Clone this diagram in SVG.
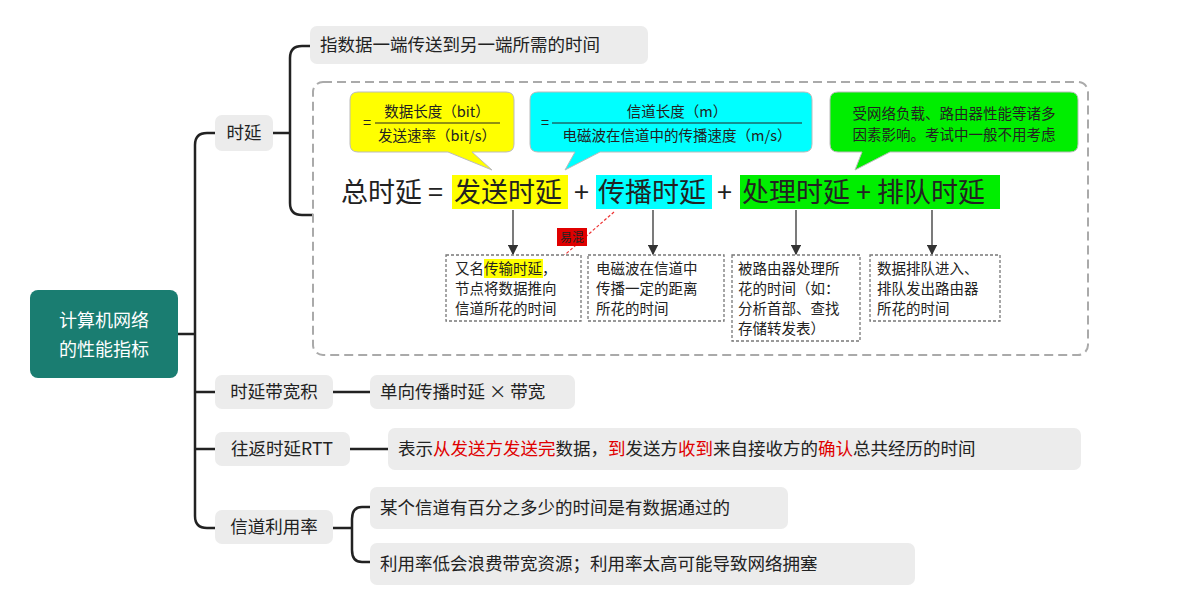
<svg xmlns="http://www.w3.org/2000/svg" width="1188" height="604" viewBox="0 0 1188 604">
<style>
text{font-family:"Noto Sans CJK SC","Liberation Sans",sans-serif;fill:#222}
.n{fill:#ececec}
.t{font-size:17.5px}
.s{font-size:14.5px;font-family:"Noto Sans CJK SC",serif}
.br{fill:none;stroke:#222;stroke-width:2.5}
.dl{fill:#fff;stroke:#777;stroke-width:1.3;stroke-dasharray:3,2}
.f{font-size:27px}
.ar{stroke:#333;stroke-width:1.3;marker-end:url(#a)}
.r{fill:#e00000}
</style>
<defs>
<marker id="a" markerWidth="8" markerHeight="8" refX="7" refY="4" orient="auto"><path d="M0,0L8,4L0,8z" fill="#333"/></marker>
<marker id="ar" markerWidth="8" markerHeight="8" refX="7" refY="4" orient="auto"><path d="M0,0L8,4L0,8z" fill="#e33"/></marker>
</defs>
<rect width="1188" height="604" fill="#fff"/>
<g id="connectors">
<path class="br" d="M178,334H195M195,145Q195,133 207,133H215M195,145V516Q195,528 207,528H215M195,392H215M195,449H215"/>
<path class="br" d="M273,133H290M290,58Q290,46 302,46H310M290,58V203Q290,215 302,215H313"/>
<path class="br" d="M333,392H370M350,449H388"/>
<path class="br" d="M333,528H352M352,519Q352,507 362,507H370M352,519V550Q352,562 362,562H370"/>
</g>
<g id="root"><rect x="30" y="290" width="148" height="88" rx="8" fill="#1a7d71"/>
<text x="104" y="327" text-anchor="middle" font-size="18" style="fill:#fff">计算机网络</text>
<text x="104" y="356" text-anchor="middle" font-size="18" style="fill:#fff">的性能指标</text></g>
<g id="delay"><rect class="n" x="215" y="115" width="58" height="36" rx="7"/><text class="t" x="244" y="139" text-anchor="middle">时延</text></g>
<g id="bdp"><rect class="n" x="215" y="375" width="118" height="34" rx="7"/><text class="t" x="274" y="398" text-anchor="middle">时延带宽积</text></g>
<g id="rtt"><rect class="n" x="215" y="432" width="135" height="34" rx="7"/><text class="t" x="282" y="455" text-anchor="middle">往返时延RTT</text></g>
<g id="util"><rect class="n" x="215" y="510" width="118" height="34" rx="7"/><text class="t" x="274" y="533" text-anchor="middle">信道利用率</text></g>
<g id="def"><rect class="n" x="310" y="26" width="338" height="38" rx="7"/><text class="t" x="320" y="51">指数据一端传送到另一端所需的时间</text></g>
<g id="bdpv"><rect class="n" x="370" y="375" width="205" height="34" rx="7"/><text class="t" x="380" y="398">单向传播时延 × 带宽</text></g>
<g id="rttv"><rect class="n" x="388" y="428" width="693" height="42" rx="7"/><text class="t" x="398" y="455">表示<tspan class="r">从发送方发送完</tspan>数据，<tspan class="r">到</tspan>发送方<tspan class="r">收到</tspan>来自接收方的<tspan class="r">确认</tspan>总共经历的时间</text></g>
<g id="u1"><rect class="n" x="370" y="487" width="418" height="42" rx="7"/><text class="t" x="380" y="514">某个信道有百分之多少的时间是有数据通过的</text></g>
<g id="u2"><rect class="n" x="370" y="543" width="545" height="42" rx="7"/><text class="t" x="380" y="570">利用率低会浪费带宽资源；利用率太高可能导致网络拥塞</text></g>
<g id="detail">
<rect x="313" y="82" width="775" height="273" rx="10" fill="none" stroke="#aaa" stroke-width="2" stroke-dasharray="9,5"/>
<path d="M358,92H506Q514,92 514,100V144Q514,152 506,152H472L492,170L448,152H358Q350,152 350,144V100Q350,92 358,92z" fill="#ffff00" stroke="#bbb"/>
<text class="s" x="363" y="128">=</text>
<line x1="375" y1="123" x2="500" y2="123" stroke="#222"/>
<text class="s" x="437" y="117" text-anchor="middle">数据长度（bit）</text>
<text class="s" x="437" y="141" text-anchor="middle">发送速率（bit/s）</text>
<path d="M538,92H804Q812,92 812,100V144Q812,152 804,152H600L565,170L575,152H538Q530,152 530,144V100Q530,92 538,92z" fill="#00ffff" stroke="#bbb"/>
<text class="s" x="541" y="128">=</text>
<line x1="552" y1="123" x2="802" y2="123" stroke="#222"/>
<text class="s" x="677" y="117" text-anchor="middle">信道长度（m）</text>
<text class="s" x="677" y="141" text-anchor="middle">电磁波在信道中的传播速度（m/s）</text>
<path d="M838,92H1070Q1078,92 1078,100V144Q1078,152 1070,152H890L855,170L862,152H838Q830,152 830,144V100Q830,92 838,92z" fill="#00ee00" stroke="#bbb"/>
<text class="s" x="954" y="119" text-anchor="middle">受网络负载、路由器性能等诸多</text>
<text class="s" x="954" y="140" text-anchor="middle">因素影响。考试中一般不用考虑</text>
<rect x="452" y="175" width="116" height="34" fill="#ffff00"/>
<rect x="596" y="175" width="116" height="34" fill="#00ffff"/>
<rect x="740" y="175" width="260" height="34" fill="#00ee00"/>
<text class="f" x="341" y="202">总时延 = </text>
<text class="f" x="454" y="202">发送时延</text>
<text class="f" x="574" y="202">+</text>
<text class="f" x="598" y="202">传播时延</text>
<text class="f" x="717" y="202">+</text>
<text class="f" x="742" y="202">处理时延 + 排队时延</text>
<line class="ar" x1="513" y1="210" x2="513" y2="254"/>
<line class="ar" x1="653" y1="210" x2="653" y2="254"/>
<line class="ar" x1="796" y1="210" x2="796" y2="254"/>
<line class="ar" x1="932" y1="210" x2="932" y2="254"/>
<line x1="614" y1="212" x2="552" y2="266" stroke="#e33" stroke-width="1.2" stroke-dasharray="3,2" marker-end="url(#ar)"/>
<rect x="557" y="228" width="30" height="18" fill="#e00000"/>
<text x="572" y="242" text-anchor="middle" font-size="12" style="fill:#222">易混</text>
<rect class="dl" x="446" y="255" width="135" height="66"/>
<rect x="484" y="259" width="59" height="19" fill="#ffff00"/>
<text class="s" x="455" y="274">又名传输时延，</text>
<text class="s" x="455" y="294">节点将数据推向</text>
<text class="s" x="455" y="314">信道所花的时间</text>
<rect class="dl" x="588" y="255" width="136" height="66"/>
<text class="s" x="596" y="274">电磁波在信道中</text>
<text class="s" x="596" y="294">传播一定的距离</text>
<text class="s" x="596" y="314">所花的时间</text>
<rect class="dl" x="732" y="255" width="128" height="86"/>
<text class="s" x="738" y="274">被路由器处理所</text>
<text class="s" x="738" y="294">花的时间（如：</text>
<text class="s" x="738" y="314">分析首部、查找</text>
<text class="s" x="738" y="334">存储转发表）</text>
<rect class="dl" x="870" y="255" width="130" height="66"/>
<text class="s" x="877" y="274">数据排队进入、</text>
<text class="s" x="877" y="294">排队发出路由器</text>
<text class="s" x="877" y="314">所花的时间</text>
</g>
</svg>
